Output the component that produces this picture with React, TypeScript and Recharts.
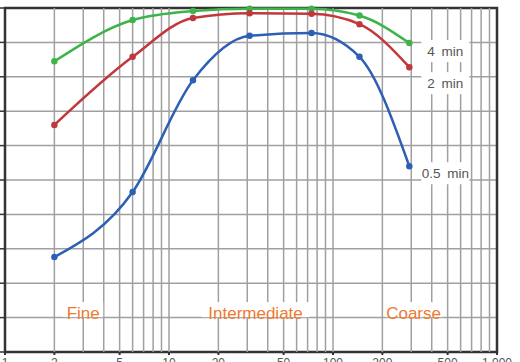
import React from 'react'
import {
  LineChart,
  Line,
  XAxis,
  YAxis,
  CartesianGrid,
  ReferenceLine,
  ReferenceArea,
  ReferenceDot,
} from 'recharts'

// particle size (log axis) at which each curve was sampled
const sizes = [2, 6, 14, 31, 74, 145, 292]

// % passing / recovery per mixing time
const min4 = [84.5, 96.5, 99.1, 99.8, 99.8, 97.8, 89.8]
const min2 = [66, 85.8, 97.1, 98.5, 98.3, 95.3, 82.8]
const min05 = [27.6, 46.5, 79, 91.9, 92.7, 85.8, 54]

const xTicks = [1, 2, 5, 10, 20, 50, 100, 200, 500, 1000]
const yTicks = [0, 10, 20, 30, 40, 50, 60, 70, 80, 90, 100]
const xGrid = [
  2, 3, 4, 5, 6, 7, 8, 9, 10,
  20, 30, 40, 50, 60, 70, 80, 90, 100,
  200, 300, 400, 500, 600, 700, 800, 900,
]

const seriesLabels = ['4 min', '2 min', '0.5 min']
const regions = [
  { name: 'Fine', x: 3, y: 11.3 },
  { name: 'Intermediate', x: 33.7, y: 11.3 },
  { name: 'Coarse', x: 310, y: 11.3 },
]

const data = sizes.map((s, i) => ({
  size: s,
  m4: min4[i],
  m2: min2[i],
  m05: min05[i],
}))

const font = '"Liberation Sans", Arial, sans-serif'
const GRID = '#a0a0a0'

function endLabel(text: string, dy: number) {
  return (props: any) => {
    const { x, y, index } = props
    if (index !== sizes.length - 1) return null
    const cx = x + 36
    const cy = y + dy
    return (
      <g>
        <rect x={cx - 24} y={cy - 11} width={48} height={22} fill="#fff" />
        <text
          x={cx}
          y={cy}
          textAnchor="middle"
          dominantBaseline="central"
          fontFamily={font}
          fontSize={13.5}
          fill="#555"
          wordSpacing={3}
        >
          {text}
        </text>
      </g>
    )
  }
}

function regionLabel(text: string) {
  return (props: any) => {
    const vb = props.viewBox || {}
    const cx = vb.x + (vb.width || 0) / 2
    const cy = vb.y + (vb.height || 0) / 2
    const w = text.length * 8.5 + 6
    return (
      <g>
        <rect x={cx - w / 2} y={cy - 11} width={w} height={15} fill="#fff" />
        <text
          x={cx}
          y={cy}
          textAnchor="middle"
          dominantBaseline="central"
          fontFamily={font}
          fontSize={17}
          fill="#f07a30"
        >
          {text}
        </text>
      </g>
    )
  }
}

export default function App() {
  return (
    <div
      style={{
        position: 'absolute',
        left: 0,
        top: 0,
        width: 520,
        height: 362,
        overflow: 'hidden',
        background: '#fff',
      }}
    >
      <div style={{ position: 'absolute', left: -40, top: 0 }}>
        <LineChart
          width={560}
          height={400}
          data={data}
          margin={{ top: 8, right: 23, left: 0, bottom: 18 }}
        >
          <CartesianGrid vertical={false} stroke={GRID} strokeWidth={1.5} />
          {xGrid.map(v => (
            <ReferenceLine key={v} x={v} stroke={GRID} strokeWidth={1.5} />
          ))}
          <XAxis
            dataKey="size"
            type="number"
            scale="log"
            domain={[1, 1000]}
            ticks={xTicks}
            allowDataOverflow
            height={30}
            tickSize={3}
            tickMargin={3}
            axisLine={false}
            tickLine={{ stroke: '#333', strokeWidth: 2 }}
            tick={{ fontSize: 12, fill: '#555', fontFamily: font }}
            tickFormatter={v => (v === 1000 ? '1,000' : String(v))}
            interval={0}
          />
          <YAxis
            type="number"
            domain={[0, 100]}
            ticks={yTicks}
            width={45}
            tickSize={5}
            axisLine={false}
            tickLine={{ stroke: '#333', strokeWidth: 1.5 }}
            tick={{ fontSize: 12, fill: '#555', fontFamily: font }}
          />
          {regions.map(r => (
            <ReferenceDot
              key={r.name}
              x={r.x}
              y={r.y}
              r={0}
              fill="none"
              stroke="none"
              label={regionLabel(r.name)}
            />
          ))}
          <ReferenceArea
            x1={1}
            x2={1000}
            y1={0}
            y2={100}
            fill="none"
            fillOpacity={0}
            stroke="#333"
            strokeWidth={2.5}
          />
          <Line
            dataKey="m4"
            type="monotone"
            stroke="#3cb44a"
            strokeWidth={2.5}
            dot={{ r: 2, fill: '#3cb44a', stroke: '#3cb44a' }}
            isAnimationActive={false}
            label={endLabel(seriesLabels[0], 8)}
          />
          <Line
            dataKey="m2"
            type="monotone"
            stroke="#c0383c"
            strokeWidth={2.5}
            dot={{ r: 2, fill: '#c0383c', stroke: '#c0383c' }}
            isAnimationActive={false}
            label={endLabel(seriesLabels[1], 16)}
          />
          <Line
            dataKey="m05"
            type="monotone"
            stroke="#2d5fb4"
            strokeWidth={2.5}
            dot={{ r: 2, fill: '#2d5fb4', stroke: '#2d5fb4' }}
            isAnimationActive={false}
            label={endLabel(seriesLabels[2], 7)}
          />
        </LineChart>
      </div>
    </div>
  )
}
